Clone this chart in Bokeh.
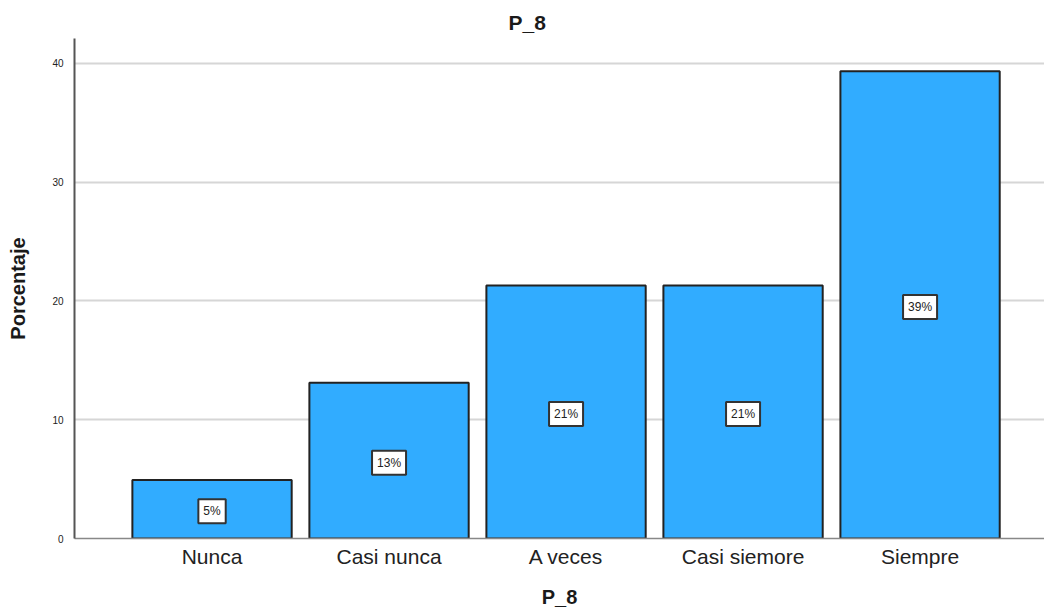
from bokeh.plotting import figure
from bokeh.models import ColumnDataSource, FixedTicker, Range1d
from bokeh.core.properties import value
from bokeh.embed import file_html
from bokeh.resources import INLINE

categories = ["Nunca", "Casi nunca", "A veces", "Casi siemore", "Siempre"]
percentages = [4.92, 13.11, 21.31, 21.31, 39.34]
bar_labels = ["5%", "13%", "21%", "21%", "39%"]
y_ticks = [0, 10, 20, 30, 40]

positions = list(range(1, len(categories) + 1))
source = ColumnDataSource(dict(
    x=positions,
    top=percentages,
    mid=[v / 2 for v in percentages],
    label=bar_labels,
))

p = figure(width=1044, height=610, output_backend="svg", toolbar_location=None,
           x_range=Range1d(0.223, 5.703), y_range=Range1d(0, 42.1),
           title="P_8", min_border_left=74, min_border_right=0,
           min_border_top=38, min_border_bottom=0)
p.outline_line_color = None
p.background_fill_color = "white"
p.border_fill_color = "white"

p.title.align = "left"
p.title.offset = 434
p.title.standoff = 9
p.title.text_font = "Liberation Sans"
p.title.text_font_size = "21px"
p.title.text_font_style = "bold"
p.title.text_color = "#1a1a1a"

p.vbar(x="x", top="top", width=0.9, source=source,
       fill_color="#31acff", line_color="#222222", line_width=2)

p.text(x="x", y="mid", text="label", source=source,
       text_align="center", text_baseline="middle",
       text_font=value("Liberation Sans"), text_font_size="12px", text_color="#222222",
       background_fill_color="white", border_line_color="#333333",
       border_line_width=2, padding=5, y_offset=2)

# axes
p.xaxis.ticker = FixedTicker(ticks=positions)
p.xaxis.major_label_overrides = {pos: c for pos, c in zip(positions, categories)}
p.xaxis.major_tick_line_color = None
p.xaxis.major_tick_out = 0
p.xaxis.major_tick_in = 0
p.xaxis.minor_tick_line_color = None
p.xaxis.axis_line_color = "#888888"
p.xaxis.axis_line_width = 1.5
p.xaxis.major_label_text_font = "Liberation Sans"
p.xaxis.major_label_text_font_size = "21px"
p.xaxis.major_label_text_color = "#222222"
p.xaxis.major_label_standoff = 6
p.xaxis.axis_label = "P_8"
p.xaxis.axis_label_text_font = "Liberation Sans"
p.xaxis.axis_label_text_font_size = "20px"
p.xaxis.axis_label_text_font_style = "bold"
p.xaxis.axis_label_text_color = "#1a1a1a"
p.xaxis.axis_label_standoff = 15

p.yaxis.ticker = FixedTicker(ticks=y_ticks)
p.yaxis.major_tick_line_color = None
p.yaxis.major_tick_out = 0
p.yaxis.major_tick_in = 0
p.yaxis.minor_tick_line_color = None
p.yaxis.axis_line_color = "#555555"
p.yaxis.axis_line_width = 2
p.yaxis.major_label_text_font = "Liberation Sans"
p.yaxis.major_label_text_font_size = "10px"
p.yaxis.major_label_text_color = "#222222"
p.yaxis.major_label_standoff = 11
p.yaxis.axis_label = "Porcentaje"
p.yaxis.axis_label_text_font = "Liberation Sans"
p.yaxis.axis_label_text_font_size = "20px"
p.yaxis.axis_label_text_font_style = "bold"
p.yaxis.axis_label_text_color = "#1a1a1a"
p.yaxis.axis_label_standoff = 20

p.xgrid.grid_line_color = None
p.ygrid.grid_line_color = "#d6d6d6"
p.ygrid.grid_line_width = 2
p.ygrid.ticker = FixedTicker(ticks=[10, 20, 30, 40])

open("out.html", "w").write(file_html(p, INLINE))
